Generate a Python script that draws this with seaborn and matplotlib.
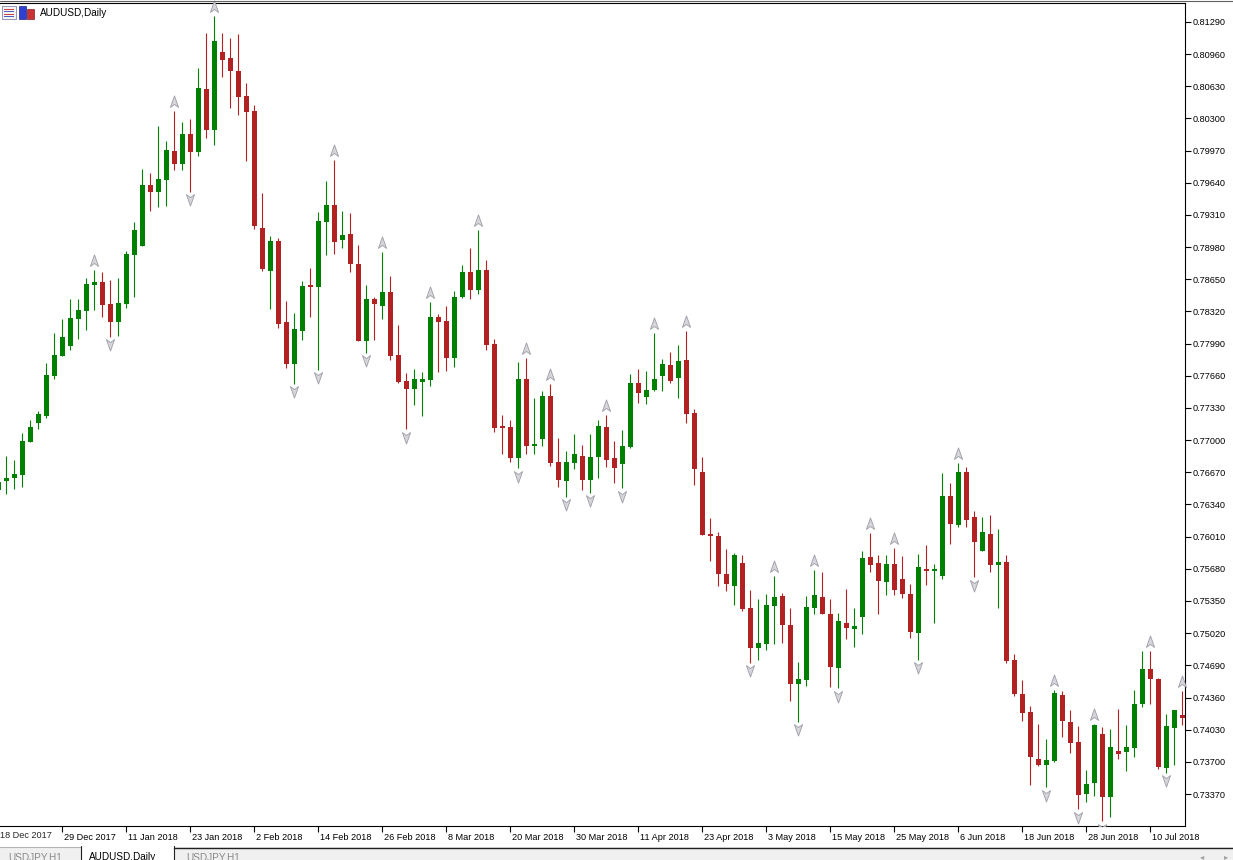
import numpy as np
import pandas as pd
import matplotlib
matplotlib.use("Agg")
import matplotlib.pyplot as plt
import matplotlib.transforms as mtransforms
from matplotlib.path import Path
from matplotlib.patches import Rectangle
from matplotlib.lines import Line2D
import seaborn as sns

# AUDUSD daily candles (one row per bar, left to right)
open_ = [0.76489, 0.76581, 0.76612, 0.76642, 0.76981, 0.77176, 0.77248, 0.77658, 0.77863, 0.77966,
         0.78243, 0.78325, 0.78592, 0.78622, 0.78397, 0.78212, 0.78397, 0.78899, 0.78992, 0.79617,
         0.79546, 0.79669, 0.79966, 0.79833, 0.80140, 0.79956, 0.80602, 0.80182, 0.80982, 0.80920,
         0.80787, 0.80530, 0.80376, 0.79176, 0.78735, 0.79043, 0.78212, 0.77781, 0.78120, 0.78592,
         0.78571, 0.79238, 0.79412, 0.79053, 0.79115, 0.78807, 0.78017, 0.78448, 0.78376, 0.78520,
         0.77873, 0.77607, 0.77525, 0.77596, 0.77617, 0.78263, 0.78222, 0.77843, 0.78468, 0.78725,
         0.78540, 0.78745, 0.77986, 0.77145, 0.77135, 0.76817, 0.77627, 0.76940, 0.77012, 0.77453,
         0.76776, 0.76581, 0.76766, 0.76837, 0.76591, 0.76827, 0.77135, 0.76817, 0.76755, 0.76930,
         0.77586, 0.77443, 0.77514, 0.77658, 0.77771, 0.77638, 0.77822, 0.77278, 0.76673, 0.76037,
         0.76017, 0.75627, 0.75504, 0.75740, 0.75278, 0.74868, 0.74909, 0.75299, 0.75401, 0.75104,
         0.74498, 0.74540, 0.75278, 0.75391, 0.75217, 0.74663, 0.75124, 0.75063, 0.75186, 0.75801,
         0.75740, 0.75545, 0.75729, 0.75576, 0.75422, 0.75022, 0.75678, 0.75658, 0.75606, 0.76427,
         0.76130, 0.76673, 0.76212, 0.75863, 0.76037, 0.75719, 0.75750, 0.74745, 0.74396, 0.74211,
         0.73729, 0.73668, 0.73709, 0.74386, 0.74109, 0.73904, 0.73370, 0.73483, 0.73986, 0.73339,
         0.73811, 0.73801, 0.73842, 0.74293, 0.74652, 0.74550, 0.73637, 0.74047, 0.74181]
high = [0.76612, 0.76837, 0.76796, 0.77073, 0.77207, 0.77299, 0.77791, 0.78099, 0.78243, 0.78448,
        0.78448, 0.78663, 0.78745, 0.78725, 0.78643, 0.78663, 0.78940, 0.79238, 0.79781, 0.79740,
        0.80222, 0.80069, 0.80376, 0.80264, 0.80294, 0.80818, 0.81177, 0.81351, 0.81177, 0.81125,
        0.81166, 0.80664, 0.80438, 0.79535, 0.79094, 0.79074, 0.78427, 0.78304, 0.78632, 0.78766,
        0.79340, 0.79658, 0.79874, 0.79351, 0.79330, 0.79002, 0.78592, 0.78468, 0.78930, 0.78684,
        0.78181, 0.77689, 0.77730, 0.77699, 0.78417, 0.78294, 0.78376, 0.78530, 0.78797, 0.78971,
        0.79156, 0.78848, 0.78038, 0.77258, 0.77207, 0.77802, 0.77843, 0.77432, 0.77504, 0.77576,
        0.77022, 0.76889, 0.77063, 0.76950, 0.77063, 0.77207, 0.77258, 0.76991, 0.77104, 0.77679,
        0.77730, 0.77709, 0.78099, 0.77832, 0.77904, 0.77976, 0.78120, 0.77320, 0.76827, 0.76201,
        0.76058, 0.75883, 0.75842, 0.75822, 0.75463, 0.75371, 0.75422, 0.75606, 0.75432, 0.75278,
        0.74724, 0.75401, 0.75668, 0.75647, 0.75371, 0.75227, 0.75473, 0.75278, 0.75863, 0.76047,
        0.75822, 0.75822, 0.75894, 0.75812, 0.75524, 0.75832, 0.75924, 0.75729, 0.76663, 0.76560,
        0.76766, 0.76725, 0.76273, 0.76212, 0.76232, 0.76088, 0.75822, 0.74806, 0.74540, 0.74273,
        0.74088, 0.73934, 0.74437, 0.74427, 0.74232, 0.74068, 0.73616, 0.74088, 0.74057, 0.74037,
        0.74242, 0.74078, 0.74437, 0.74837, 0.74837, 0.74560, 0.74191, 0.74232, 0.74427]
low = [0.76437, 0.76448, 0.76499, 0.76519, 0.76981, 0.77114, 0.77227, 0.77627, 0.77863, 0.77925,
       0.78038, 0.78130, 0.78335, 0.78263, 0.78058, 0.78068, 0.78356, 0.78468, 0.78992, 0.79351,
       0.79392, 0.79402, 0.79771, 0.79771, 0.79546, 0.79915, 0.80099, 0.80028, 0.80725, 0.80407,
       0.80335, 0.79864, 0.79166, 0.78735, 0.78345, 0.78150, 0.77740, 0.77576, 0.78027, 0.78263,
       0.77720, 0.78899, 0.78910, 0.78971, 0.78725, 0.78017, 0.77894, 0.78027, 0.78243, 0.77822,
       0.77586, 0.77114, 0.77361, 0.77248, 0.77555, 0.77699, 0.77709, 0.77750, 0.78458, 0.78448,
       0.78499, 0.77925, 0.77084, 0.76858, 0.76776, 0.76714, 0.76858, 0.76858, 0.76940, 0.76735,
       0.76519, 0.76417, 0.76704, 0.76489, 0.76458, 0.76612, 0.76725, 0.76560, 0.76509, 0.76919,
       0.77381, 0.77371, 0.77504, 0.77504, 0.77586, 0.77432, 0.77176, 0.76540, 0.76027, 0.75760,
       0.75504, 0.75452, 0.75309, 0.75247, 0.74714, 0.74745, 0.74847, 0.74909, 0.74919, 0.74324,
       0.74109, 0.74478, 0.75217, 0.75217, 0.74468, 0.74457, 0.74960, 0.74878, 0.75011, 0.75647,
       0.75217, 0.75412, 0.75412, 0.75381, 0.74970, 0.74745, 0.75514, 0.75124, 0.75576, 0.75935,
       0.76109, 0.76109, 0.75596, 0.75863, 0.75647, 0.75278, 0.74714, 0.74375, 0.74119, 0.73462,
       0.73657, 0.73442, 0.73698, 0.73955, 0.73791, 0.73216, 0.73288, 0.73350, 0.73093, 0.73134,
       0.73729, 0.73606, 0.73750, 0.74263, 0.74293, 0.73627, 0.73586, 0.73668, 0.74078]
close = [0.76571, 0.76612, 0.76653, 0.76991, 0.77135, 0.77268, 0.77668, 0.77873, 0.78058, 0.78253,
         0.78335, 0.78602, 0.78622, 0.78386, 0.78212, 0.78407, 0.78910, 0.79156, 0.79617, 0.79546,
         0.79679, 0.79976, 0.79833, 0.80140, 0.79956, 0.80612, 0.80182, 0.81094, 0.80900, 0.80787,
         0.80520, 0.80366, 0.79197, 0.78756, 0.79043, 0.78191, 0.77781, 0.78140, 0.78581, 0.78571,
         0.79248, 0.79412, 0.79033, 0.79104, 0.78807, 0.78017, 0.78448, 0.78397, 0.78520, 0.77863,
         0.77596, 0.77525, 0.77627, 0.77627, 0.78263, 0.78212, 0.77843, 0.78468, 0.78725, 0.78540,
         0.78745, 0.77976, 0.77125, 0.77125, 0.76817, 0.77627, 0.76940, 0.76960, 0.77453, 0.76766,
         0.76591, 0.76776, 0.76858, 0.76591, 0.76827, 0.77145, 0.76796, 0.76714, 0.76940, 0.77586,
         0.77484, 0.77514, 0.77627, 0.77781, 0.77607, 0.77812, 0.77268, 0.76704, 0.76027, 0.76017,
         0.75627, 0.75524, 0.75822, 0.75268, 0.74868, 0.74919, 0.75309, 0.75391, 0.75104, 0.74498,
         0.74550, 0.75288, 0.75412, 0.75217, 0.74673, 0.75145, 0.75073, 0.75093, 0.75791, 0.75719,
         0.75555, 0.75729, 0.75463, 0.75422, 0.75032, 0.75699, 0.75658, 0.75678, 0.76427, 0.76140,
         0.76673, 0.76181, 0.75955, 0.76058, 0.75719, 0.75750, 0.74734, 0.74396, 0.74201, 0.73750,
         0.73668, 0.73719, 0.74406, 0.74119, 0.73893, 0.73360, 0.73473, 0.74078, 0.73339, 0.73852,
         0.73781, 0.73852, 0.74293, 0.74652, 0.74550, 0.73647, 0.74068, 0.74232, 0.74150]

# Bill Williams fractals (bar numbers)
fractal_up = [12, 22, 27, 42, 48, 54, 60, 66, 69, 76, 82, 86, 97, 102, 109, 112, 120, 132, 137, 144, 148]
fractal_down = [14, 24, 37, 40, 46, 51, 65, 71, 74, 78, 94, 100, 105, 115, 122, 131, 135, 138, 146]

price_ticks = [0.73370, 0.73700, 0.74030, 0.74360, 0.74690, 0.75020, 0.75350, 0.75680, 0.76010,
               0.76340, 0.76670, 0.77000, 0.77330, 0.77660, 0.77990, 0.78320, 0.78650, 0.78980,
               0.79310, 0.79640, 0.79970, 0.80300, 0.80630, 0.80960, 0.81290]
date_bars = [8, 16, 24, 32, 40, 48, 56, 64, 72, 80, 88, 96, 104, 112, 120, 128, 136, 144]
date_labels = ["29 Dec 2017", "11 Jan 2018", "23 Jan 2018", "2 Feb 2018", "14 Feb 2018",
               "26 Feb 2018", "8 Mar 2018", "20 Mar 2018", "30 Mar 2018", "11 Apr 2018",
               "23 Apr 2018", "3 May 2018", "15 May 2018", "25 May 2018", "6 Jun 2018",
               "18 Jun 2018", "28 Jun 2018", "10 Jul 2018"]
first_date_label = "18 Dec 2017"

BULL = "#008000"
BEAR = "#b22222"

sns.set_style("white")
plt.rcParams["font.family"] = ["Liberation Sans", "DejaVu Sans"]

df = pd.DataFrame({"open": open_, "high": high, "low": low, "close": close})
df["bar"] = np.arange(len(df))
df["up"] = df["close"] >= df["open"]
df["color"] = np.where(df["up"], BULL, BEAR)
df["body_lo"] = df[["open", "close"]].min(axis=1)
df["body_h"] = (df["close"] - df["open"]).abs().clip(lower=0.00015)

W, H = 1233, 860
fig = plt.figure(figsize=(W / 100, H / 100), dpi=100, facecolor="white")
ax = fig.add_axes([0, 34 / H, 1185 / W, 823 / H])
ax.set_facecolor("white")

# wicks and bodies
ax.vlines(df["bar"], df["low"], df["high"], colors=df["color"], linewidth=0.8, zorder=2)
ax.bar(df["bar"], df["body_h"], bottom=df["body_lo"], width=0.625,
       color=df["color"], linewidth=0, zorder=3)

# fractal arrows
up_path = Path([(0, 1), (0.62, -0.75), (0, -0.3), (-0.62, -0.75), (0, 1)],
               [Path.MOVETO, Path.LINETO, Path.LINETO, Path.LINETO, Path.CLOSEPOLY])
down_path = Path([(0, -1), (0.62, 0.75), (0, 0.3), (-0.62, 0.75), (0, -1)],
                 [Path.MOVETO, Path.LINETO, Path.LINETO, Path.LINETO, Path.CLOSEPOLY])
up_tr = mtransforms.offset_copy(ax.transData, fig=fig, y=6.3, units="points")
dn_tr = mtransforms.offset_copy(ax.transData, fig=fig, y=-5.4, units="points")
fu = df.loc[fractal_up]
fd = df.loc[fractal_down]
sns.scatterplot(x=fu["bar"].values, y=fu["high"].values, marker=up_path, s=90,
                color="#d6d6dc", edgecolor="#9c9ca6", linewidth=0.6,
                transform=up_tr, ax=ax, zorder=4, legend=False, clip_on=False)
sns.scatterplot(x=fd["bar"].values, y=fd["low"].values, marker=down_path, s=90,
                color="#d6d6dc", edgecolor="#9c9ca6", linewidth=0.6,
                transform=dn_tr, ax=ax, zorder=4, legend=False)

ax.set_xlim(0.25, 148.375)
ax.set_ylim(0.73042, 0.81484)
ax.set_xlabel("")
ax.set_ylabel("")

# price scale on the right
ax.yaxis.tick_right()
ax.set_yticks(price_ticks)
ax.set_yticklabels([f"{p:.5f}" for p in price_ticks])
ax.tick_params(axis="y", direction="out", length=4, width=0.8, color="black",
               labelsize=6.6, pad=1.5, labelcolor="black", right=True, left=False)

# date scale at the bottom
ax.set_xticks(date_bars)
ax.set_xticklabels(date_labels)
ax.tick_params(axis="x", direction="out", length=4, width=0.8, color="black",
               labelsize=6.6, pad=1.0, labelcolor="black", bottom=True)
shift = mtransforms.ScaledTranslation(2 / 100, 0, fig.dpi_scale_trans)
for lab in ax.get_xticklabels():
    lab.set_horizontalalignment("left")
    lab.set_transform(lab.get_transform() + shift)
fig.text(0.5 / W, 1 - 836 / H, first_date_label, fontsize=6.6, va="center", ha="left")

for side in ["top", "right", "bottom"]:
    ax.spines[side].set_visible(True)
    ax.spines[side].set_color("black")
    ax.spines[side].set_linewidth(0.8)
ax.spines["left"].set_visible(False)
ax.grid(False)

# window chrome: top border, caption, tab bar
fig.add_artist(Line2D([0, 1], [1 - 0.6 / H, 1 - 0.6 / H], transform=fig.transFigure,
                      color="#606060", linewidth=0.8))


def px_rect(x0, y0, x1, y1, **kw):
    return Rectangle((x0 / W, 1 - y1 / H), (x1 - x0) / W, (y1 - y0) / H,
                     transform=fig.transFigure, **kw)


fig.add_artist(px_rect(2, 6, 16, 19, facecolor="#f4f4f4", edgecolor="#7d86b0", linewidth=0.6))
for k, c in enumerate(["#d04040", "#4a5fc0", "#d04040", "#4a5fc0"]):
    fig.add_artist(px_rect(4, 8.5 + k * 2.5, 14, 9.6 + k * 2.5, facecolor=c, linewidth=0))
fig.add_artist(px_rect(19, 6, 26, 19, facecolor="#2f3fd0", edgecolor="#1b2590", linewidth=0.5))
fig.add_artist(px_rect(27, 9, 34, 19, facecolor="#c83232", edgecolor="#8a1c1c", linewidth=0.5))
fig.text(40 / W, 1 - 13 / H, "AUDUSD,Daily", fontsize=7.2, va="center", ha="left", color="black")

fig.add_artist(px_rect(0, 847, W, H + 2, facecolor="#f0f0f0", linewidth=0))
fig.add_artist(Line2D([0, 81 / W], [1 - 847 / H] * 2, transform=fig.transFigure,
                      color="#b4b4b4", linewidth=0.8))
fig.add_artist(Line2D([174 / W, 1], [1 - 847.5 / H] * 2, transform=fig.transFigure,
                      color="#202020", linewidth=1.0))
fig.add_artist(px_rect(81, 846, 174, H + 2, facecolor="white", linewidth=0))
fig.add_artist(Line2D([81 / W, 81 / W], [0, 1 - 846 / H], transform=fig.transFigure,
                      color="#202020", linewidth=0.8))
fig.add_artist(Line2D([174 / W, 174 / W], [0, 1 - 846 / H], transform=fig.transFigure,
                      color="#202020", linewidth=0.8))
fig.text(8 / W, 1 - 857 / H, "USDJPY,H1", fontsize=7.2, va="center", ha="left", color="#8a8a8a")
fig.text(89 / W, 1 - 857 / H, "AUDUSD,Daily", fontsize=7.2, va="center", ha="left", color="black")
fig.text(186 / W, 1 - 857 / H, "USDJPY,H1", fontsize=7.2, va="center", ha="left", color="#8a8a8a")
fig.text(1202 / W, 1 - 857 / H, "\u25c2", fontsize=6, va="center", ha="center", color="#a0a0a0",
         family="DejaVu Sans")
fig.text(1226 / W, 1 - 857 / H, "\u25b8", fontsize=6, va="center", ha="center", color="#a0a0a0",
         family="DejaVu Sans")

fig.savefig("out.png", dpi=100, facecolor="white")
